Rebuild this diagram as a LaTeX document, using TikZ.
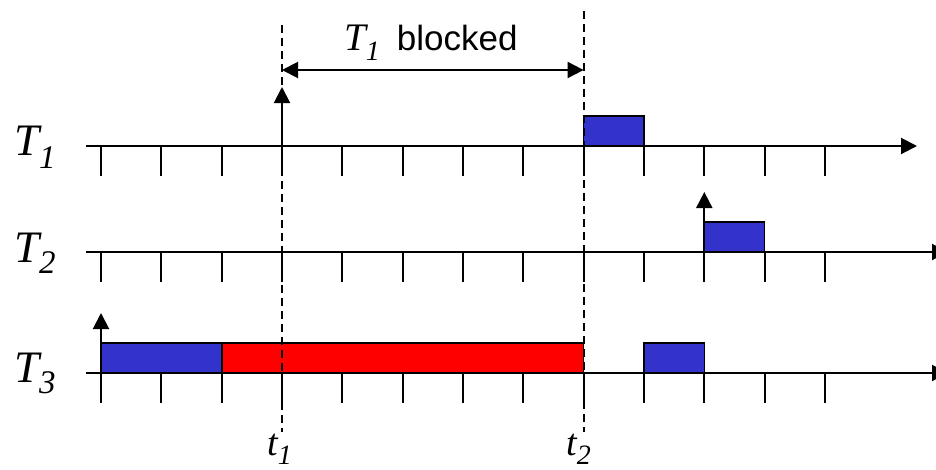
\documentclass[tikz,border=0pt]{standalone}
\usepackage{fontspec}
\setmainfont{Liberation Serif}
\newfontfamily\sansf{Liberation Sans}
\usetikzlibrary{arrows.meta}
\definecolor{jobblue}{HTML}{3333CC}
\definecolor{jobred}{HTML}{FF0000}
\tikzset{
  axisline/.style={line width=2pt,-{Triangle[length=16pt,width=16pt]}},
  tickmark/.style={line width=1.8pt},
  job/.style={draw=black,line width=1.6pt},
  release/.style={line width=2pt,-{Triangle[length=16pt,width=16pt]}},
  guide/.style={dash pattern=on 8pt off 5pt,line width=1.8pt},
  span/.style={line width=2pt,{Triangle[length=16pt,width=16pt]}-{Triangle[length=16pt,width=16pt]}},
  lbl/.style={inner sep=0pt,anchor=base west},
}
\newcommand{\bigT}[2]{{\fontsize{45}{45}\selectfont\itshape T}{\fontsize{33}{33}\selectfont\itshape\raisebox{-#2pt}{#1}}}
\newcommand{\smallt}[1]{{\fontsize{38}{38}\selectfont\itshape t}{\fontsize{28}{28}\selectfont\itshape\raisebox{-9pt}{#1}}}
\begin{document}
\begin{tikzpicture}[x=1pt,y=-1pt]
\useasboundingbox (0,0) rectangle (936,469);
% axis coordinates
\coordinate (a1s) at (86,146);  \coordinate (a1e) at (917,146);
\coordinate (a2s) at (86,252);  \coordinate (a2e) at (948,252);
\coordinate (a3s) at (86,373);  \coordinate (a3e) at (948,373);
% jobs
\path[job,fill=jobblue] (583.6,116) rectangle (644,146);
\path[job,fill=jobblue] (704.3,222) rectangle (764.6,252);
\path[job,fill=jobblue] (101,343) rectangle (221.7,373);
\path[job,fill=jobred]  (221.7,343) rectangle (583.6,373);
\path[job,fill=jobblue] (644,343) rectangle (704.3,373);
% axes
\draw[axisline] (a1s) -- (a1e);
\draw[axisline] (a2s) -- (a2e);
\draw[axisline] (a3s) -- (a3e);
% ticks
\foreach \k in {0,...,12}{
  \pgfmathsetmacro{\xx}{101+60.33*\k}
  \draw[tickmark] (\xx,146) -- (\xx,176);
  \draw[tickmark] (\xx,252) -- (\xx,282);
  \draw[tickmark] (\xx,373) -- (\xx,403);
}
% releases
\coordinate (r1b) at (282,146); \coordinate (r1t) at (282,87);
\coordinate (r2b) at (704.3,252); \coordinate (r2t) at (704.3,192);
\coordinate (r3b) at (101,373); \coordinate (r3t) at (101,313);
\draw[release] (r1b) -- (r1t);
\draw[release] (r2b) -- (r2t);
\draw[release] (r3b) -- (r3t);
% guides
\coordinate (g1t) at (282,25);  \coordinate (g1b) at (282,432);
\coordinate (g2t) at (583.6,11); \coordinate (g2b) at (583.6,432);
\draw[guide] (g1t) -- (g1b);
\draw[guide] (g2t) -- (g2b);
\coordinate (s1) at (282,70); \coordinate (s2) at (583.6,70);
\draw[span] (s1) -- (s2);
% labels
\node[lbl] (lT1) at (14,155) {\bigT{1}{13}};
\node[lbl] (lT2) at (14,262) {\bigT{2}{11}};
\node[lbl] (lT3) at (14,382) {\bigT{3}{11}};
\node[lbl] (lblk) at (344,50) {{\fontsize{39}{39}\selectfont\itshape T}{\fontsize{28}{28}\selectfont\itshape\raisebox{-10pt}{1}}\hspace{17pt}{\sansf\fontsize{35}{35}\selectfont blocked}};
\node[lbl] (lt1) at (267,455) {\smallt{1}};
\node[lbl] (lt2) at (566,455) {\smallt{2}};
\end{tikzpicture}
\end{document}
